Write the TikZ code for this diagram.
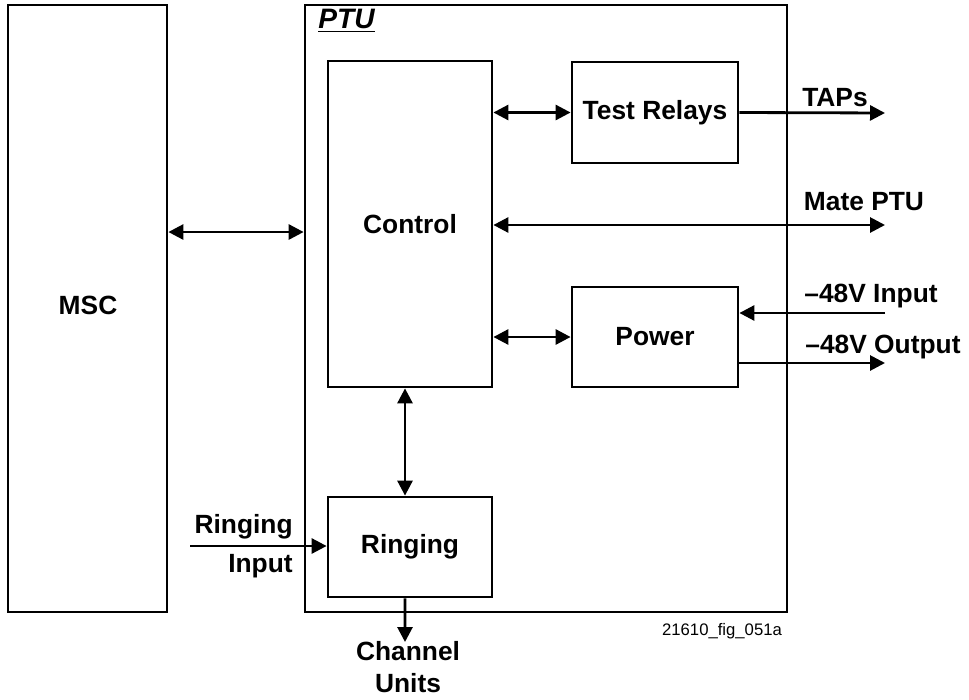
\documentclass[tikz,border=0pt]{standalone}
\usepackage{fontspec}
\setmainfont{Liberation Sans}
\usepackage{tikz}
\usetikzlibrary{calc,arrows.meta,positioning}

\tikzset{
  blk/.style={draw,line width=1.6pt,inner sep=0pt,font=\fontsize{15}{18}\selectfont\bfseries},
  lnk/.style={line width=1.6pt},
  lbl/.style={font=\fontsize{15}{18}\selectfont\bfseries,inner sep=0pt}
}

\begin{document}
\begin{tikzpicture}[x=0.02cm,y=-0.02cm,>={Triangle[length=0.3cm,width=0.3cm]}]
      \useasboundingbox (0,0) rectangle (969,699);
      % blocks
      \node[blk,minimum width=3.18cm,minimum height=12.14cm] (msc) at (87.5,308.5) {};
      \node[lbl] at (88,305) {MSC};
      \node[blk,minimum width=9.64cm,minimum height=12.14cm] (ptu) at (546,308.5) {};
      \node[lbl,anchor=west,font=\fontsize{16}{18}\selectfont\bfseries\itshape] (ptulbl) at (318,21) {\underline{PTU}};
      \node[blk,minimum width=3.28cm,minimum height=6.52cm] (ctrl) at (410,224) {Control};
      \node[blk,minimum width=3.32cm,minimum height=2.02cm] (relays) at (655,112.5) {Test Relays};
      \node[blk,minimum width=3.32cm,minimum height=2.0cm] (power) at (655,337) {Power};
      \node[blk,minimum width=3.28cm,minimum height=2.0cm] (ring) at (410,547) {Ringing};
      % free ends
      \coordinate (taps) at (885,113);
      \coordinate (mate) at (885,225);
      \coordinate (in48) at (885,313);
      \coordinate (out48) at (885,363);
      \coordinate (ringin) at (190,546);
      \coordinate (chan) at (405,642);
      % connectors
      \draw[lnk,<->] ([yshift=1.53cm]msc.east) -- ([yshift=1.53cm]ptu.west);
      \draw[lnk,<->] (ctrl.east |- relays) -- (relays.west);
      \draw[lnk,->] (relays.east) -- (taps);
      \draw[lnk,<->] (ctrl.east |- mate) -- (mate);
      \draw[lnk,<->] (ctrl.east |- power) -- (power.west);
      \draw[lnk,->] (in48) -- (power.east |- in48);
      \draw[lnk,->] (power.east |- out48) -- (out48);
      \draw[lnk,<->] ([xshift=-0.1cm]ctrl.south) -- ([xshift=-0.1cm]ring.north);
      \draw[lnk,->] (ringin) -- (ring.west |- ringin);
      \draw[lnk,->] ([xshift=-0.1cm]ring.south) -- (chan);
      % labels
      \node[lbl] (tapslbl) at (835,98) {TAPs};
      \node[lbl] (matelbl) at (864,202) {Mate PTU};
      \node[lbl] (inlbl) at (871,296) {–48V Input};
      \node[lbl] (outlbl) at (883,347) {–48V Output};
      \node[lbl,anchor=east] (ringlbl1) at (293,527) {Ringing};
      \node[lbl,anchor=east] (ringlbl2) at (293,566) {Input};
      \node[lbl,align=center] (chanlbl) at (408,667) {Channel\\Units};
      \node[font=\fontsize{9.5}{11}\selectfont,inner sep=0pt] (figid) at (722,631) {21610\_fig\_051a};
    \end{tikzpicture}
\end{document}
